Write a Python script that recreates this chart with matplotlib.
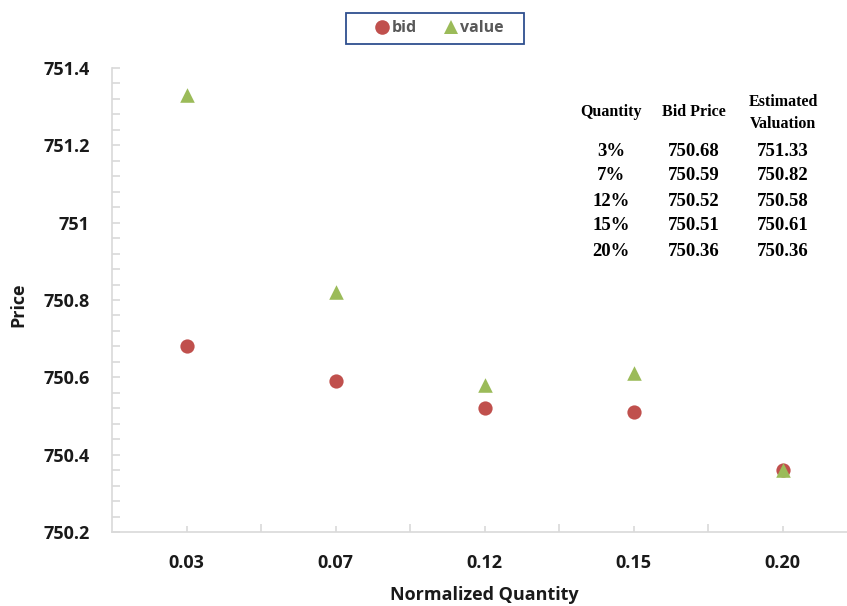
import matplotlib
matplotlib.use("Agg")
import matplotlib.pyplot as plt
from matplotlib.ticker import MultipleLocator, FixedLocator
from matplotlib.lines import Line2D
from matplotlib.patches import Rectangle

categories = ["0.03", "0.07", "0.12", "0.15", "0.20"]
bid = [750.68, 750.59, 750.52, 750.51, 750.36]
value = [751.33, 750.82, 750.58, 750.61, 750.36]

table_header = ["Quantity", "Bid Price", "Estimated\nValuation"]
table_qty = ["3%", "7%", "12%", "15%", "20%"]
table_bid = ["750.68", "750.59", "750.52", "750.51", "750.36"]
table_val = ["751.33", "750.82", "750.58", "750.61", "750.36"]

W, H = 847, 606
fig = plt.figure(figsize=(W / 100, H / 100), dpi=100)
ax = fig.add_axes([112 / W, 1 - 532 / H, 745 / W, 464 / H])

x = list(range(1, len(categories) + 1))
red = "#C0504D"
green = "#9BBB59"
ax.scatter(x, bid, marker="o", s=105, color=red, zorder=3, linewidths=0)
ax.scatter(x, value, marker="^", s=110, color=green, zorder=4, linewidths=0)

ax.set_xlim(0.5, 5.5)
ax.set_ylim(750.2, 751.4)

grey = "#D9D9D9"
for s in ["top", "right"]:
    ax.spines[s].set_visible(False)
for s in ["left", "bottom"]:
    ax.spines[s].set_color(grey)
    ax.spines[s].set_linewidth(1.2)

ax.xaxis.set_major_locator(FixedLocator(x))
ax.xaxis.set_minor_locator(FixedLocator([1.5, 2.5, 3.5, 4.5]))
ax.set_xticklabels(categories)
ax.tick_params(axis="x", which="major", direction="in", length=4, color=grey, width=1.2, pad=16)
ax.tick_params(axis="x", which="minor", direction="in", length=6, color=grey, width=1.2)

ax.yaxis.set_major_locator(MultipleLocator(0.2))
ax.yaxis.set_minor_locator(MultipleLocator(0.04))
ax.tick_params(axis="y", which="both", direction="in", length=6, color=grey, width=1.2, pad=16)
ax.set_yticklabels([f"{v:g}" for v in ax.get_yticks()])

sans = "Open Sans"
lab_font = dict(family=sans, weight="bold", size=13, color="#1a1a1a")
for lbl in ax.get_xticklabels() + ax.get_yticklabels():
    lbl.set_fontfamily(sans)
    lbl.set_fontweight("bold")
    lbl.set_fontsize(13)
    lbl.set_color("#1a1a1a")

fig.text(484 / W, 1 - 595 / H, "Normalized Quantity", ha="center", va="center", **lab_font)
fig.text(18 / W, 1 - 305 / H, "Price", ha="center", va="center", rotation=90, **lab_font)

# legend
handles = [
    Line2D([], [], marker="o", linestyle="none", markersize=10.5, color=red, markeredgewidth=0),
    Line2D([], [], marker="^", linestyle="none", markersize=10.5, color=green, markeredgewidth=0),
]
leg = fig.legend(handles, ["bid", "value"], loc="center", bbox_to_anchor=(439 / W, 1 - 28.5 / H),
                 ncol=2, frameon=False, handletextpad=0.1, columnspacing=1.6,
                 handlelength=1.0, prop=dict(family=sans, weight="bold", size=11.5))
for t in leg.get_texts():
    t.set_color("#595959")
fig.patches.append(Rectangle((346 / W, 1 - 44 / H), 178 / W, 31 / H, transform=fig.transFigure,
                             fill=False, edgecolor="#2F4F8F", linewidth=1.3))

# table text
tfont = dict(family="Liberation Serif", weight="bold", color="#000000")
col_x = [611, 694, 783]
fig.text(col_x[0] / W, 1 - 112 / H, table_header[0], ha="center", va="center", size=11.5, **tfont)
fig.text(col_x[1] / W, 1 - 112 / H, table_header[1], ha="center", va="center", size=11.5, **tfont)
fig.text(col_x[2] / W, 1 - 113 / H, table_header[2], ha="center", va="center", size=11.5,
         linespacing=1.45, **tfont)
row_y = [152, 176, 201, 226, 252]
for q, b, v, yy in zip(table_qty, table_bid, table_val, row_y):
    fig.text(col_x[0] / W, 1 - yy / H, q, ha="center", va="center", size=13.5, **tfont)
    fig.text(col_x[1] / W, 1 - yy / H, b, ha="center", va="center", size=13.5, **tfont)
    fig.text(col_x[2] / W, 1 - yy / H, v, ha="center", va="center", size=13.5, **tfont)

fig.savefig("out.png", dpi=100)
